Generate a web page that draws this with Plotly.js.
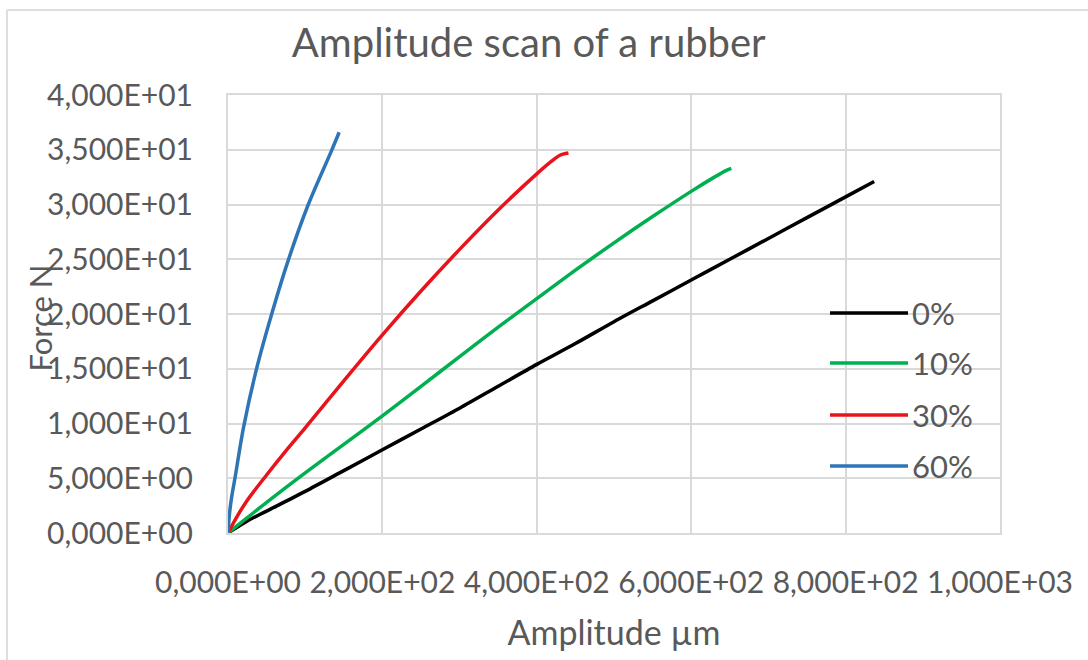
<!DOCTYPE html>
<html>
<head>
<meta charset="utf-8">
<script src="https://cdn.plot.ly/plotly-3.0.1.min.js"></script>
<style>
  html, body { margin: 0; padding: 0; background: #ffffff; }
  #chart { width: 1088px; height: 660px; }
</style>
</head>
<body>
<div id="chart"></div>
<script>
// ---- data ----
const seriesNames = ["0%", "10%", "30%", "60%"];
const seriesColors = ["#000000", "#00b050", "#e8141c", "#2e75b6"];

const amp0 = [0, 25, 50, 100, 150, 200, 250, 300, 350, 400, 450, 500, 550, 600, 650, 700, 750, 800, 837];
const force0 = [0, 1.1, 2.0, 3.8, 5.7, 7.6, 9.5, 11.4, 13.4, 15.4, 17.3, 19.3, 21.2, 23.1, 25.0, 26.9, 28.8, 30.7, 32.1];

const amp10 = [0, 25, 50, 100, 150, 200, 250, 300, 350, 400, 450, 500, 550, 600, 630, 645, 652];
const force10 = [0, 1.4, 2.8, 5.5, 8.1, 10.7, 13.4, 16.1, 18.8, 21.4, 24.0, 26.5, 28.9, 31.2, 32.5, 33.1, 33.3];

const amp30 = [0, 10, 25, 50, 75, 100, 150, 200, 250, 300, 350, 400, 420, 430, 441];
const force30 = [0, 1.3, 3.0, 5.3, 7.5, 9.6, 13.9, 18.1, 22.1, 25.9, 29.5, 32.8, 34.0, 34.5, 34.7];

const amp60 = [0, 2, 5, 9, 20, 37, 57, 78, 104, 134, 144];
const force60 = [0, 1.8, 3.4, 5.0, 9.6, 15.0, 20.1, 24.9, 30.0, 34.9, 36.6];

const xTickVals = [0, 200, 400, 600, 800, 1000];
const xTickText = ["0,000E+00", "2,000E+02", "4,000E+02", "6,000E+02", "8,000E+02", "1,000E+03"];
const yTickVals = [0, 5, 10, 15, 20, 25, 30, 35, 40];
const yTickText = ["0,000E+00", "5,000E+00", "1,000E+01", "1,500E+01", "2,000E+01", "2,500E+01", "3,000E+01", "3,500E+01", "4,000E+01"];

const titleText = "Amplitude scan of a rubber";
const xTitleText = "Amplitude µm";
const yTitleText = "Force N";

// ---- build ----
const xs = [amp0, amp10, amp30, amp60];
const ys = [force0, force10, force30, force60];

const FONT = "Lato, 'Open Sans', sans-serif";
const GRAY = "#595959";
const GRID = "#d9d9d9";

const traces = seriesNames.map((n, i) => ({
  type: "scatter",
  mode: "lines",
  name: n,
  x: xs[i],
  y: ys[i],
  line: { color: seriesColors[i], width: 3.5, shape: "spline", smoothing: 0.8 },
  showlegend: false,
  hoverinfo: "x+y+name"
}));

// custom legend (long line samples like the reference)
const legendY = [0.5023, 0.388, 0.2694, 0.153];
const shapes = seriesNames.map((n, i) => ({
  type: "line", xref: "paper", yref: "paper",
  x0: 0.7798, x1: 0.8808, y0: legendY[i], y1: legendY[i],
  line: { color: seriesColors[i], width: 3.5 }
}));
// outer frame (top and left edges visible in the reference)
shapes.push({ type: "line", xref: "paper", yref: "paper", x0: -0.2863, x1: 1.12, y0: 1.1941, y1: 1.1941, line: { color: "#dedede", width: 2 } });
shapes.push({ type: "line", xref: "paper", yref: "paper", x0: -0.2863, x1: -0.2863, y0: 1.1941, y1: -0.3, line: { color: "#dedede", width: 2 } });

const annotations = seriesNames.map((n, i) => ({
  xref: "paper", yref: "paper", x: 0.884, y: legendY[i],
  xanchor: "left", yanchor: "middle", showarrow: false,
  text: n, font: { family: FONT, size: 31, color: GRAY }
}));
annotations.push({
  xref: "paper", yref: "paper", x: -0.2435, y: 0.49,
  xanchor: "center", yanchor: "middle", showarrow: false, textangle: -90,
  text: yTitleText, font: { family: FONT, size: 31, color: GRAY }
});

const layout = {
  width: 1088, height: 660,
  margin: { l: 228, r: 88, t: 95, b: 127 },
  paper_bgcolor: "#ffffff",
  plot_bgcolor: "#ffffff",
  font: { family: FONT, color: GRAY },
  title: {
    text: titleText, xref: "container", yref: "container",
    x: 0.486, xanchor: "center", y: 0.935, yanchor: "middle",
    font: { family: FONT, size: 40, color: GRAY }
  },
  xaxis: {
    range: [0, 1000], tickvals: xTickVals, ticktext: xTickText, tickangle: 0,
    showgrid: true, gridcolor: GRID, gridwidth: 2, zeroline: false,
    showline: true, linecolor: GRID, linewidth: 2, mirror: true,
    ticks: "outside", ticklen: 22, tickcolor: "rgba(0,0,0,0)",
    tickfont: { family: FONT, size: 30, color: GRAY },
    title: { text: xTitleText, standoff: 23, font: { family: FONT, size: 34, color: GRAY } },
    fixedrange: true
  },
  yaxis: {
    range: [0, 40], tickvals: yTickVals, ticktext: yTickText,
    showgrid: true, gridcolor: GRID, gridwidth: 2, zeroline: false,
    showline: true, linecolor: GRID, linewidth: 2, mirror: true,
    ticks: "outside", ticklen: 27, tickcolor: "rgba(0,0,0,0)",
    tickfont: { family: FONT, size: 30, color: GRAY },
    fixedrange: true
  },
  shapes: shapes,
  annotations: annotations,
  showlegend: false
};

Plotly.newPlot("chart", traces, layout, { displayModeBar: false });
</script>
</body>
</html>
